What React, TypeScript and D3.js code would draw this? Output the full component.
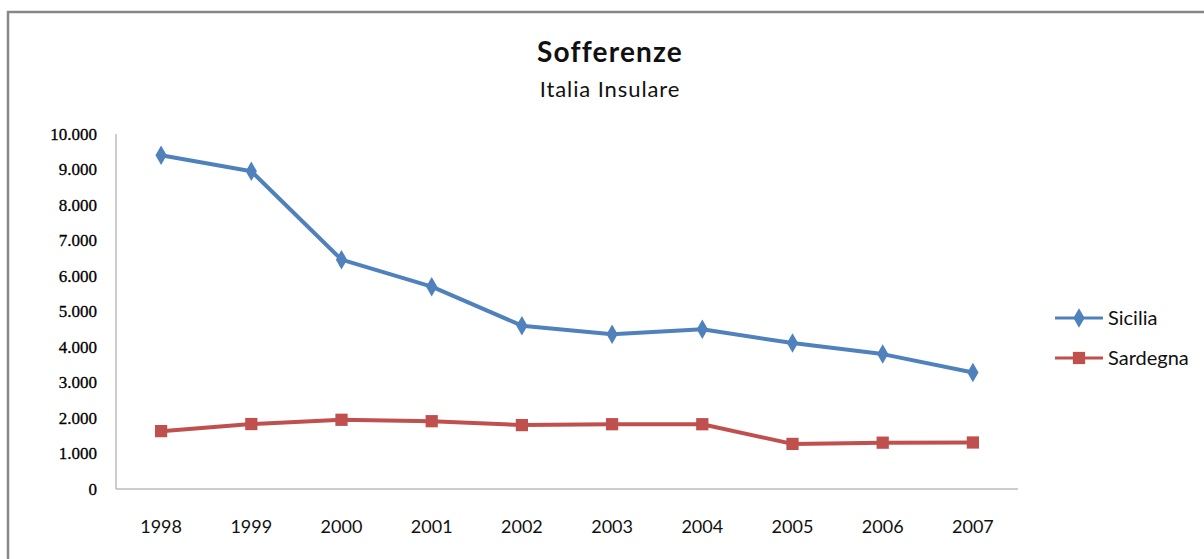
import * as d3 from 'd3';
import { useEffect, useRef } from 'react';

// Data
const years = ['1998', '1999', '2000', '2001', '2002', '2003', '2004', '2005', '2006', '2007'];
const sicilia = [9400, 8950, 6460, 5700, 4600, 4360, 4500, 4110, 3800, 3280];
const sardegna = [1630, 1830, 1950, 1910, 1800, 1825, 1825, 1270, 1305, 1310];
const yTicks = [0, 1000, 2000, 3000, 4000, 5000, 6000, 7000, 8000, 9000, 10000];

export default function App() {
  const ref = useRef<SVGSVGElement>(null);

  useEffect(() => {
    const svg = d3.select(ref.current);
    svg.selectAll('*').remove();

    const left = 116, right = 1018, top = 134, bottom = 489;

    // outer frame
    svg.append('rect')
      .attr('x', 8).attr('y', 12)
      .attr('width', 1200).attr('height', 600)
      .attr('fill', 'white')
      .attr('stroke', '#878787')
      .attr('stroke-width', 2.5);

    const x = d3.scaleBand().domain(years).range([left, right]);
    const y = d3.scaleLinear().domain([0, 10000]).range([bottom, top]);

    // axes lines
    svg.append('line')
      .attr('x1', left).attr('x2', left).attr('y1', top).attr('y2', bottom)
      .attr('stroke', '#9a9a9a').attr('stroke-width', 1);
    svg.append('line')
      .attr('x1', left).attr('x2', right).attr('y1', bottom).attr('y2', bottom)
      .attr('stroke', '#9a9a9a').attr('stroke-width', 1);

    const fmt = (v: number) => d3.format(',')(v).replace(/,/g, '.');

    svg.append('g').selectAll('text')
      .data(yTicks)
      .enter()
      .append('text')
      .attr('x', 97)
      .attr('y', d => y(d))
      .attr('dy', '0.35em')
      .attr('text-anchor', 'end')
      .attr('font-family', '"Liberation Serif", serif')
      .attr('font-size', 17)
      .attr('stroke', '#000')
      .attr('stroke-width', 0.3)
      .attr('fill', '#000')
      .text(d => fmt(d));

    svg.append('g').selectAll('text')
      .data(years)
      .enter()
      .append('text')
      .attr('x', d => (x(d) as number) + x.bandwidth() / 2)
      .attr('y', 527)
      .attr('dy', '0.35em')
      .attr('text-anchor', 'middle')
      .attr('font-family', 'Lato, sans-serif')
      .attr('font-size', 18)
      .attr('fill', '#111')
      .text(d => d);

    const cx = (i: number) => (x(years[i]) as number) + x.bandwidth() / 2;
    const line = d3.line<number>().x((d, i) => cx(i)).y(d => y(d));

    const series = [
      { name: 'Sicilia', values: sicilia, color: '#4F81BD', shape: d3.symbolDiamond, size: 110 },
      { name: 'Sardegna', values: sardegna, color: '#C0504D', shape: d3.symbolSquare, size: 150 },
    ];

    series.forEach((s, si) => {
      svg.append('path')
        .attr('d', line(s.values))
        .attr('fill', 'none')
        .attr('stroke', s.color)
        .attr('stroke-width', 4)
        .attr('stroke-linejoin', 'round');
      svg.append('g').selectAll('path')
        .data(s.values)
        .enter()
        .append('path')
        .attr('d', d3.symbol().type(s.shape).size(s.size)())
        .attr('transform', (d, i) => `translate(${cx(i)},${y(d)})`)
        .attr('fill', s.color);

      // legend
      const ly = 318 + si * 40;
      svg.append('line')
        .attr('x1', 1055).attr('x2', 1103).attr('y1', ly).attr('y2', ly)
        .attr('stroke', s.color).attr('stroke-width', 3);
      svg.append('path')
        .attr('d', d3.symbol().type(s.shape).size(s.size)())
        .attr('transform', `translate(1079,${ly})`)
        .attr('fill', s.color);
      svg.append('text')
        .attr('x', 1108).attr('y', ly)
        .attr('dy', '0.35em')
        .attr('font-family', 'Lato, sans-serif')
        .attr('font-size', 20)
        .attr('fill', '#111')
        .text(s.name);
    });

    // titles
    svg.append('text')
      .attr('x', 610).attr('y', 52)
      .attr('dy', '0.35em')
      .attr('text-anchor', 'middle')
      .attr('font-family', 'Lato, sans-serif')
      .attr('font-weight', 'bold')
      .attr('font-size', 28)
      .attr('letter-spacing', 1.2)
      .attr('fill', '#111')
      .text('Sofferenze');
    svg.append('text')
      .attr('x', 610).attr('y', 89)
      .attr('dy', '0.35em')
      .attr('text-anchor', 'middle')
      .attr('font-family', 'Lato, sans-serif')
      .attr('font-size', 22)
      .attr('letter-spacing', 0.9)
      .attr('fill', '#111')
      .text('Italia Insulare');
  }, []);

  return (
    <svg
      ref={ref}
      width={1204}
      height={559}
      style={{ position: 'absolute', left: 0, top: 0, background: 'white' }}
    />
  );
}
